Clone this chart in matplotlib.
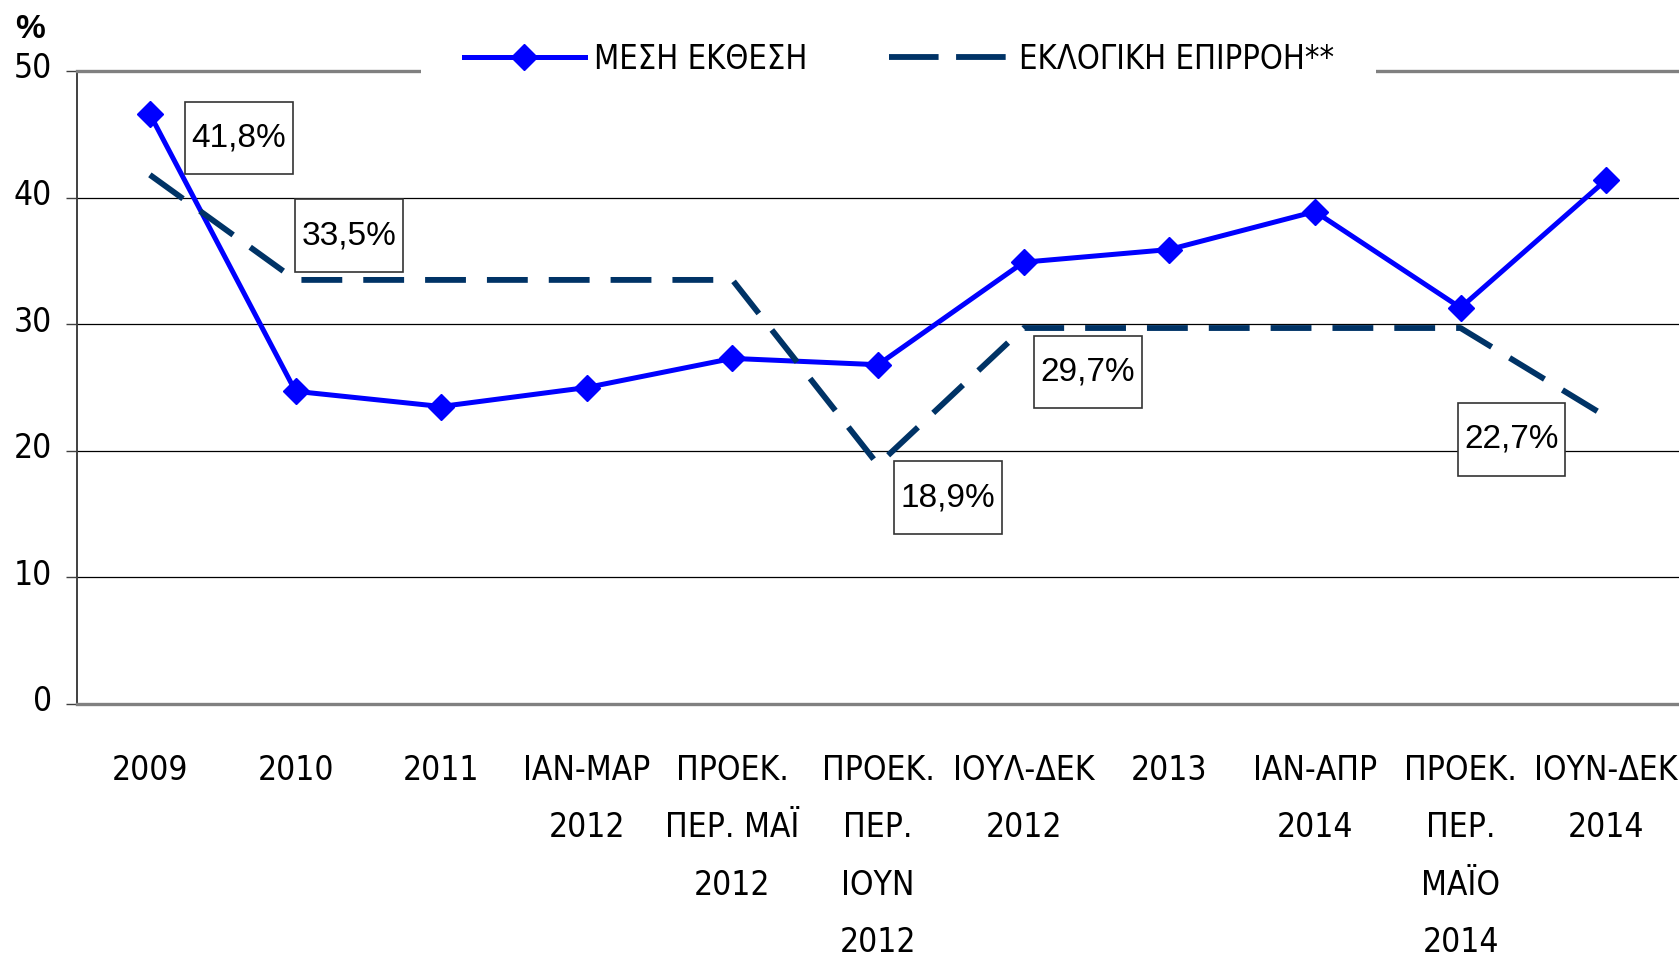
import matplotlib
matplotlib.use("Agg")
import matplotlib.pyplot as plt
from matplotlib.lines import Line2D
from matplotlib.path import Path
from matplotlib.transforms import ScaledTranslation

categories = [
    "2009", "2010", "2011", "ΙΑΝ-ΜΑΡ\n2012", "ΠΡΟΕΚ.\nΠΕΡ. ΜΑΪ\n2012",
    "ΠΡΟΕΚ.\nΠΕΡ.\nΙΟΥΝ\n2012", "ΙΟΥΛ-ΔΕΚ\n2012", "2013", "ΙΑΝ-ΑΠΡ\n2014",
    "ΠΡΟΕΚ.\nΠΕΡ.\nΜΑΪΟ\n2014", "ΙΟΥΝ-ΔΕΚ\n2014",
]
mesi_ekthesi = [46.6, 24.7, 23.5, 25.0, 27.3, 26.8, 34.9, 35.9, 38.9, 31.3, 41.4]
eklogiki_epirroi = [41.8, 33.5, 33.5, 33.5, 33.5, 18.9, 29.7, 29.7, 29.7, 29.7, 22.7]

# value boxes: text, x (category units), y
box_labels = ["41,8%", "33,5%", "18,9%", "29,7%", "22,7%"]
box_x = [0.61, 1.37, 5.48, 6.44, 9.35]
box_y = [44.7, 37.0, 16.3, 26.2, 20.9]

yticks = [0, 10, 20, 30, 40, 50]

NARROW = dict(family="DejaVu Sans", stretch="condensed", size=24)
BLUE = "#0000FF"
NAVY = "#003366"


def label_box(x0, y0, width, height, mutation_size):
    # rectangle with small side padding and tall top/bottom padding
    px = 0.2 * mutation_size
    py = 0.62 * mutation_size
    verts = [(x0 - px, y0 - py), (x0 + width + px, y0 - py),
             (x0 + width + px, y0 + height + py), (x0 - px, y0 + height + py),
             (x0 - px, y0 - py)]
    return Path(verts, closed=True)


fig = plt.figure(figsize=(16.79, 9.56), dpi=100)
ax = fig.add_axes([0.0459, 0.2636, 0.9541, 0.6621])

x = list(range(len(categories)))

ax.plot(x, mesi_ekthesi, color=BLUE, lw=3.6, marker="D", markersize=13,
        label="ΜΕΣΗ ΕΚΘΕΣΗ", zorder=3)
ax.plot(x, eklogiki_epirroi, color=NAVY, lw=4.2, dashes=(7, 3.6),
        label="ΕΚΛΟΓΙΚΗ ΕΠΙΡΡΟΗ**", zorder=4)

for txt, bx, by in zip(box_labels, box_x, box_y):
    ax.text(bx, by, txt, ha="center", va="center", fontsize=24,
            family="Liberation Sans", zorder=6,
            bbox=dict(boxstyle=label_box, facecolor="white",
                      edgecolor="#333333", lw=1.2))

ax.set_xlim(-0.5, 10.5)
ax.set_ylim(0, 50)
ax.set_yticks(yticks)
ax.set_xticks(x)
ax.set_xticklabels(categories, fontdict=NARROW, linespacing=1.94,
                   va="top", ha="center")
ax.set_yticklabels([str(v) for v in yticks], fontdict=NARROW)
ax.tick_params(axis="x", length=0, pad=36)
ax.tick_params(axis="y", length=8, width=1, color="#404040", pad=10)
offset = ScaledTranslation(0, 4 / 72, fig.dpi_scale_trans)
for lab in ax.get_yticklabels():
    lab.set_transform(lab.get_transform() + offset)

ax.grid(axis="y", color="black", lw=0.9)
ax.set_axisbelow(True)
ax.spines["right"].set_visible(False)
ax.spines["top"].set_color("#808080")
ax.spines["top"].set_linewidth(2.4)
ax.spines["bottom"].set_color("#808080")
ax.spines["bottom"].set_linewidth(2.4)
ax.spines["left"].set_color("#404040")
ax.spines["left"].set_linewidth(1.4)

handles = [
    Line2D([], [], color=BLUE, lw=3.6, marker="D", markersize=13),
    Line2D([], [], color=NAVY, lw=4.2, dashes=(8.5, 3)),
]
leg = ax.legend(handles, ["ΜΕΣΗ ΕΚΘΕΣΗ", "ΕΚΛΟΓΙΚΗ ΕΠΙΡΡΟΗ**"],
                loc="center", bbox_to_anchor=(0.513, 1.019), ncol=2,
                prop=dict(NARROW, size=23.5), handlelength=3.7,
                handletextpad=0.28, columnspacing=2.5, borderpad=1.3,
                borderaxespad=0, frameon=True, fancybox=False,
                facecolor="white", edgecolor="none", framealpha=1)
leg.set_zorder(10)

fig.text(30 / 1679, 1 - 30 / 956, "%", fontsize=24, fontweight="bold",
         family="Liberation Sans", ha="center", va="center")

fig.savefig("out.png", dpi=100)
